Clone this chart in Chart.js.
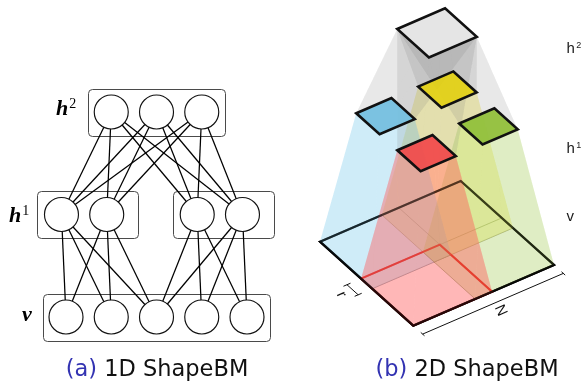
<!DOCTYPE html>
<html>
<head>
<meta charset="utf-8">
<script src="https://cdn.jsdelivr.net/npm/chart.js@4.4.0/dist/chart.umd.min.js"></script>
<style>
  html, body { margin: 0; padding: 0; background: #fff; }
  canvas { display: block; }
</style>
</head>
<body>
<canvas id="c" width="586" height="385"></canvas>
<script>
// ---------- (a) 1D ShapeBM: layered network ----------
const layerLevel = { v: 0, h1: 1, h2: 2 };
const vUnits  = [0, 1, 2, 3, 4];          // visible units
const h1Units = [-0.1, 0.9, 2.9, 3.9];    // first hidden layer (two groups)
const h2Units = [1, 2, 3];                // second hidden layer
const h1Groups = [[0, 1], [2, 3]];        // h1 units in each group
const h1Fields = [[0, 1, 2], [2, 3, 4]];  // visible units seen by each group

// ---------- (b) 2D ShapeBM: patches of an N x N image ----------
const patchNames = ['yellow', 'blue', 'green', 'red'];   // back to front
const patchA = [0.44, 0.00, 0.44, 0.00];  // patch start along one image side
const patchB = [0.00, 0.00, 0.44, 0.44];  // patch start along the other side
const patchSize = 0.56;                   // patch side (overlap r = 0.12)
const h1Size = 0.25;
const h2Size = 0.34;
const levelZ = { v: 0, h1: 1, h2: 1.67 };

// ---------- styles ----------
const beamFill = {
  yellow: 'rgba(238,228,70,0.21)',
  blue:   'rgba(130,205,238,0.22)',
  green:  'rgba(168,206,100,0.21)',
  red:    'rgba(255,92,92,0.25)'
};
const squareFill = {
  yellow: 'rgba(228,210,16,0.9)',
  blue:   'rgba(116,192,224,0.93)',
  green:  'rgba(146,192,60,0.95)',
  red:    'rgba(240,78,78,0.95)'
};
const patchLine = {
  yellow: 'rgba(80,70,20,0.45)',
  blue:   'rgba(30,50,60,0.45)',
  green:  'rgba(50,70,20,0.45)',
  red:    'rgba(228,30,30,0.95)'
};
const NODE_R = 17;
const UNIT_PX = 45.25, V0_PX = 66;        // left panel unit spacing / origin
const LAYER_PX = 102.5, VLAYER_PX = 317;  // left panel layer spacing / origin
// oblique projection of the right panel
const ORIGIN = [320, 241.7], AXA = [140.7, -60.7], AXB = [93.3, 84], ZSTEP = 132;

// ---------- datasets for the network ----------
const datasets = [];
const nodes = [];
vUnits.forEach(u => nodes.push({ x: u, y: layerLevel.v }));
h1Units.forEach(u => nodes.push({ x: u, y: layerLevel.h1 }));
h2Units.forEach(u => nodes.push({ x: u, y: layerLevel.h2 }));
datasets.push({
  data: nodes, order: 0, xAxisID: 'x', yAxisID: 'y',
  pointRadius: NODE_R, pointBackgroundColor: '#fff',
  pointBorderColor: '#111', pointBorderWidth: 1.15, showLine: false
});
function edge(x0, y0, x1, y1) {
  datasets.push({
    data: [{ x: x0, y: y0 }, { x: x1, y: y1 }], order: 1,
    xAxisID: 'x', yAxisID: 'y', showLine: true, pointRadius: 0,
    borderColor: '#000', borderWidth: 1.25, fill: false
  });
}
h2Units.forEach(a => h1Units.forEach(b => edge(a, layerLevel.h2, b, layerLevel.h1)));
h1Groups.forEach((g, gi) => g.forEach(j =>
  h1Fields[gi].forEach(k => edge(h1Units[j], layerLevel.h1, vUnits[k], layerLevel.v))));

// ---------- helpers ----------
function poly(ctx, pts, close = true) {
  ctx.beginPath();
  pts.forEach((p, i) => i ? ctx.lineTo(p[0], p[1]) : ctx.moveTo(p[0], p[1]));
  if (close) ctx.closePath();
}
function makeProj(chart) {
  const sx = chart.scales.xb, sy = chart.scales.yb;
  return (a, b, z) => [
    sx.getPixelForValue(ORIGIN[0] + a * AXA[0] + b * AXB[0]),
    sy.getPixelForValue(ORIGIN[1] + a * AXA[1] + b * AXB[1] - z * ZSTEP)
  ];
}
// corners: left, top, right, bottom
function quadAB(P, a0, b0, s, z) {
  return [P(a0, b0, z), P(a0 + s, b0, z), P(a0 + s, b0 + s, z), P(a0, b0 + s, z)];
}
function frustum(ctx, top, bottom, fill) {
  ctx.fillStyle = fill;
  for (let k = 0; k < 4; k++) {
    const k1 = (k + 1) % 4;
    poly(ctx, [top[k], top[k1], bottom[k1], bottom[k]]);
    ctx.fill();
  }
}

const diagram = {
  id: 'diagram',
  beforeDatasetsDraw(chart) {
    const ctx = chart.ctx, sx = chart.scales.x, sy = chart.scales.y;
    ctx.save();
    ctx.strokeStyle = '#4a4a4a';
    ctx.lineWidth = 1;
    const box = (units, level, padL, padR) => {
      const x0 = sx.getPixelForValue(Math.min(...units)) - NODE_R - padL;
      const x1 = sx.getPixelForValue(Math.max(...units)) + NODE_R + padR;
      const yc = sy.getPixelForValue(level);
      ctx.beginPath();
      ctx.roundRect(Math.round(x0) + 0.5, Math.round(yc - 23.5) + 0.5,
                    Math.round(x1 - x0), 47, 4);
      ctx.stroke();
    };
    box(h2Units, layerLevel.h2, 6, 6);
    h1Groups.forEach(g => box(g.map(j => h1Units[j]), layerLevel.h1, 7, 15));
    box(vUnits, layerLevel.v, 6, 6);
    ctx.restore();
  },
  afterDatasetsDraw(chart) {
    const ctx = chart.ctx, sy = chart.scales.y;
    ctx.save();
    // layer labels (left)
    ctx.fillStyle = '#000';
    ctx.textBaseline = 'alphabetic';
    const mathLabel = (x, level, dy, main, sup) => {
      const y = sy.getPixelForValue(level) + dy;
      ctx.font = 'bold italic 22px "Liberation Serif"';
      ctx.fillText(main, x, y);
      if (sup) {
        const w = ctx.measureText(main).width;
        ctx.font = '14px "Liberation Serif"';
        ctx.fillText(sup, x + w + 1, y - 7);
      }
    };
    mathLabel(56, layerLevel.h2, 3, 'h', '2');
    mathLabel(9, layerLevel.h1, 7, 'h', '1');
    mathLabel(22, layerLevel.v, 4, 'v', '');

    // ---------- right panel ----------
    const P = makeProj(chart);
    const planeZ = levelZ.v;
    const plane = quadAB(P, 0, 0, 1, planeZ);
    const patches = patchNames.map((n, i) => quadAB(P, patchA[i], patchB[i], patchSize, planeZ));
    const h1sq = patchNames.map((n, i) => quadAB(P,
      patchA[i] + (patchSize - h1Size) / 2, patchB[i] + (patchSize - h1Size) / 2, h1Size, levelZ.h1));
    const h2sq = quadAB(P, 0.5 - h2Size / 2, 0.5 - h2Size / 2, h2Size, levelZ.h2);

    ctx.lineJoin = 'miter';
    // plane outline (under the beams)
    poly(ctx, plane);
    ctx.strokeStyle = '#000';
    ctx.lineWidth = 2.3;
    ctx.stroke();
    // patch outlines
    patchNames.forEach((n, i) => {
      poly(ctx, patches[i]);
      ctx.strokeStyle = patchLine[n];
      ctx.lineWidth = n === 'red' ? 2 : 1;
      ctx.stroke();
    });
    // receptive-field beams from h1 squares down to their patches
    patchNames.forEach((n, i) => {
      ctx.fillStyle = beamFill[n];
      poly(ctx, patches[i]);
      ctx.fill();
      frustum(ctx, h1sq[i], patches[i], beamFill[n]);
    });
    // inner border of the front patch, kept visible through the beams
    const red = patchNames.indexOf('red');
    poly(ctx, [patches[red][0], patches[red][1], patches[red][2]], false);
    ctx.strokeStyle = 'rgba(232,40,30,0.6)';
    ctx.lineWidth = 2;
    ctx.stroke();
    // image border stays dark through the translucent beams
    poly(ctx, plane);
    ctx.strokeStyle = 'rgba(0,0,0,0.55)';
    ctx.lineWidth = 2.2;
    ctx.stroke();
    poly(ctx, [plane[0], plane[3], plane[2]], false);
    ctx.strokeStyle = 'rgba(0,0,0,0.6)';
    ctx.lineWidth = 2.4;
    ctx.stroke();

    // beams from h2 to every h1 square
    h1sq.forEach(sq => frustum(ctx, h2sq, sq, 'rgba(120,120,120,0.085)'));
    const drawSquare = (pts, fill) => {
      poly(ctx, pts);
      ctx.fillStyle = fill;
      ctx.fill();
      ctx.strokeStyle = '#111';
      ctx.lineWidth = 2.6;
      ctx.stroke();
    };
    patchNames.forEach((n, i) => drawSquare(h1sq[i], squareFill[n]));
    drawSquare(h2sq, 'rgba(229,229,229,0.97)');

    // dimension marks r and N
    ctx.strokeStyle = '#111';
    ctx.lineWidth = 1;
    const seg = (p, q) => { ctx.beginPath(); ctx.moveTo(p[0], p[1]); ctx.lineTo(q[0], q[1]); ctx.stroke(); };
    const rB0 = patchB[2], rB1 = patchB[0] + patchSize;
    seg(P(-0.1, rB0, 0), P(-0.1, rB1, 0));
    seg(P(-0.125, rB0, 0), P(-0.075, rB0, 0));
    seg(P(-0.125, rB1, 0), P(-0.075, rB1, 0));
    seg(P(0, 1.1, 0), P(1, 1.1, 0));
    seg(P(0, 1.08, 0), P(0, 1.12, 0));
    seg(P(1, 1.08, 0), P(1, 1.12, 0));
    ctx.fillStyle = '#111';
    ctx.font = '15px "Liberation Sans"';
    ctx.textAlign = 'center';
    ctx.textBaseline = 'middle';
    const rotText = (txt, p, ang) => {
      ctx.save();
      ctx.translate(p[0], p[1]);
      ctx.rotate(ang);
      ctx.fillText(txt, 0, 0);
      ctx.restore();
    };
    const ang = 66 * Math.PI / 180;
    rotText('r', P(-0.18, (rB0 + rB1) / 2, 0), ang);
    rotText('N', P(0.5, 1.18, 0), ang);

    // level labels (right)
    ctx.textAlign = 'left';
    ctx.textBaseline = 'alphabetic';
    ctx.fillStyle = '#1a1a1a';
    const sideLabel = (y, main, sup) => {
      ctx.font = '15px "Liberation Sans"';
      ctx.fillText(main, 566.5, y);
      if (sup) {
        const w = ctx.measureText(main).width;
        ctx.font = '9px "Liberation Sans"';
        ctx.fillText(sup, 566.5 + w + 1.5, y - 4.5);
      }
    };
    sideLabel(52.5, 'h', '2');
    sideLabel(152.5, 'h', '1');
    sideLabel(221, 'v', '');

    // captions
    const caption = (cx, tag, rest) => {
      ctx.font = '22.5px "DejaVu Sans"';
      const wt = ctx.measureText(tag + ' ').width;
      const wr = ctx.measureText(rest).width;
      const x = cx - (wt + wr) / 2;
      ctx.fillStyle = 'rgb(51,51,178)';
      ctx.fillText(tag, x, 376);
      ctx.fillStyle = '#111';
      ctx.fillText(rest, x + wt, 376);
    };
    caption(157, '(a)', '1D ShapeBM');
    caption(467, '(b)', '2D ShapeBM');
    ctx.restore();
  }
};

new Chart(document.getElementById('c'), {
  type: 'scatter',
  data: { datasets },
  options: {
    responsive: false,
    animation: false,
    events: [],
    layout: { padding: 0, autoPadding: false },
    plugins: { legend: { display: false }, tooltip: { enabled: false }, title: { display: false } },
    scales: {
      x:  { type: 'linear', display: false, min: -V0_PX / UNIT_PX, max: (586 - V0_PX) / UNIT_PX },
      y:  { type: 'linear', display: false, min: -(385 - VLAYER_PX) / LAYER_PX, max: VLAYER_PX / LAYER_PX },
      xb: { type: 'linear', axis: 'x', display: false, min: 0, max: 586 },
      yb: { type: 'linear', axis: 'y', display: false, min: 0, max: 385, reverse: true }
    }
  },
  plugins: [diagram]
});
</script>
</body>
</html>
